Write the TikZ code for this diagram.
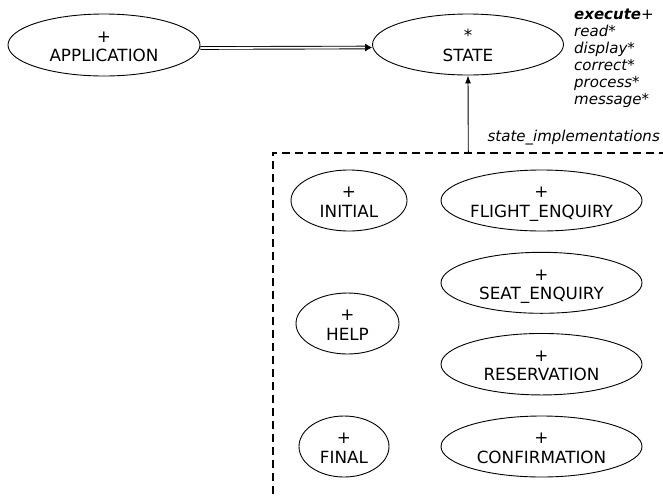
\documentclass[tikz,border=0pt]{standalone}
\usepackage{fontspec}
\setmainfont{DejaVu Sans}
\usetikzlibrary{shapes.geometric,arrows.meta}
\newcommand\clab[2]{\makebox[0pt]{\raisebox{-3pt}[\height][\depth]{\begin{tabular}{@{}c@{}}#1\\#2\end{tabular}}}}
\tikzset{
  cls/.style 2 args={ellipse, draw, line width=0.9pt, inner sep=0pt,
    minimum width=#1, minimum height=#2,
    font=\fontsize{16.8}{19.3}\selectfont},
  opline/.style={anchor=base west, inner sep=0pt,
    font=\fontsize{15}{17}\selectfont\itshape},
  dashbox/.style={line width=1.6pt, dash pattern=on 8pt off 5pt},
  dblline/.style={line width=0.9pt, double distance=1.8pt},
  inherit/.style={line width=0.9pt, -{Latex[length=8pt,width=6pt]}}
}
\begin{document}
\begin{tikzpicture}[x=1pt,y=-1pt]
\useasboundingbox (0,0) rectangle (663,496);
% top classes
\node[cls={192pt}{62pt}] (app) at (104,45) {\clab{+}{APPLICATION}};
\node[cls={191pt}{61pt}] (state) at (468,44.5) {\clab{*}{STATE}};
% operations
\node[opline] (op1) at (574,19.5) {\bfseries execute\mdseries+};
\node[opline] (op2) at (574,36.5) {read*};
\node[opline] (op3) at (574,53.5) {display*};
\node[opline] (op4) at (574,70.5) {correct*};
\node[opline] (op5) at (574,87.5) {process*};
\node[opline] (op6) at (574,104.5) {message*};
% client relation
\draw[dblline, shorten >=6pt] ([yshift=-3pt]app.east) -- ([yshift=-3pt]state.west);
\draw[-{Latex[length=7pt,width=8pt]}, line width=0.6pt, shorten <=166pt]
  ([yshift=-3pt]app.east) -- ([yshift=-3pt]state.west);
% cluster
\coordinate (boxtl) at (272.7,152.7);
\coordinate (boxtr) at (680,152.7);
\coordinate (boxbl) at (272.7,510);
\coordinate (impl) at (468.3,152.7);
\draw[dashbox] (boxtr) -- (boxtl) -- (boxbl);
\node[anchor=base east, inner sep=0pt, font=\fontsize{15}{17}\selectfont\itshape]
  (implab) at (660,141) {state\_implementations};
\draw[inherit] (impl) -- (state.south);
% implementation classes
\node[cls={116pt}{61pt}] (initial) at (349,200.5) {\clab{+}{INITIAL}};
\node[cls={201pt}{61pt}] (flight) at (541.5,200.5) {\clab{+}{FLIGHT\_ENQUIRY}};
\node[cls={201pt}{61pt}] (seat) at (541.5,282.8) {\clab{+}{SEAT\_ENQUIRY}};
\node[cls={103pt}{61pt}] (help) at (347.5,323.5) {\clab{+}{HELP}};
\node[cls={201pt}{61.5pt}] (reserv) at (541.5,364.2) {\clab{+}{RESERVATION}};
\node[cls={90pt}{61pt}] (final) at (344,446.5) {\clab{+}{FINAL}};
\node[cls={201pt}{61pt}] (confirm) at (541.5,446.5) {\clab{+}{CONFIRMATION}};
\end{tikzpicture}
\end{document}
